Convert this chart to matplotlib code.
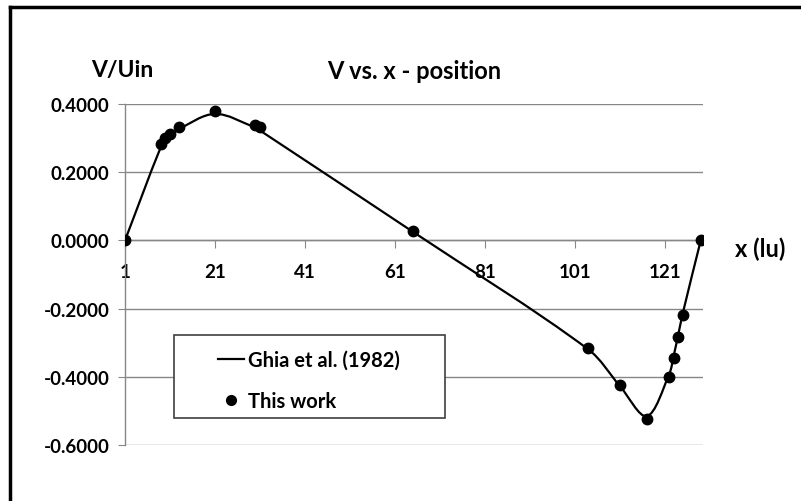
import matplotlib
matplotlib.use('Agg')
import matplotlib.pyplot as plt
from matplotlib.lines import Line2D
from matplotlib.patches import Rectangle, PathPatch
from matplotlib.path import Path
from matplotlib.ticker import FormatStrFormatter
import numpy as np

plt.rcParams['font.family'] = ['Lato', 'DejaVu Sans']
plt.rcParams['font.weight'] = 'bold'
plt.rcParams['axes.unicode_minus'] = False

# grid positions along the horizontal centreline (129 x 129 lattice)
x_lu = [1, 9, 10, 11, 13, 21, 30, 31, 65, 104, 111, 117, 122, 123, 124, 125, 129]
# Ghia et al. (1982), Re = 1000
v_ghia = [0.0, 0.27485, 0.29012, 0.30353, 0.32627, 0.37095, 0.33075, 0.32235, 0.02526,
          -0.31966, -0.42665, -0.51550, -0.39188, -0.33714, -0.27669, -0.21388, 0.0]
# this work
v_this = [0.0, 0.282, 0.299, 0.312, 0.333, 0.380, 0.338, 0.332, 0.027,
          -0.317, -0.425, -0.525, -0.402, -0.346, -0.282, -0.219, 0.0]

x_ticks = [1, 21, 41, 61, 81, 101, 121]
y_ticks = [0.4, 0.2, 0.0, -0.2, -0.4, -0.6]

grey = '#878787'
W, H = 801, 502
fig = plt.figure(figsize=(W / 100, H / 100), dpi=100)
ax = fig.add_axes([125 / W, 1 - 446 / H, (703 - 125) / W, (446 - 105) / H])


def smooth_path(xs, ys, sx=4.5, sy=340.0):
    # smoothed line like excel: cubic bezier through the points,
    # tangents from a chord-length parameterisation in screen-like units
    p = np.column_stack([np.asarray(xs) * sx, np.asarray(ys) * sy]).astype(float)
    d = np.hypot(*np.diff(p, axis=0).T)
    t = np.concatenate([[0], np.cumsum(d)])
    n = len(p)
    m = np.zeros_like(p)
    for i in range(n):
        a, b = max(i - 1, 0), min(i + 1, n - 1)
        m[i] = (p[b] - p[a]) / (t[b] - t[a])
    verts = [p[0]]
    codes = [Path.MOVETO]
    for i in range(n - 1):
        h = t[i + 1] - t[i]
        verts += [p[i] + m[i] * h / 3, p[i + 1] - m[i + 1] * h / 3, p[i + 1]]
        codes += [Path.CURVE4] * 3
    verts = np.array(verts) / [sx, sy]
    return Path(verts, codes)


ax.add_patch(PathPatch(smooth_path(x_lu, v_ghia), facecolor='none', edgecolor='black',
                       lw=1.6, zorder=3))
ax.plot(x_lu, v_this, 'o', color='black', ms=7.5, zorder=4)

ax.set_xlim(1, 129.5)
ax.set_ylim(-0.6, 0.4)
ax.set_yticks(y_ticks)
ax.yaxis.set_major_formatter(FormatStrFormatter('%.4f'))
ax.set_xticks(x_ticks)
ax.grid(axis='y', color=grey, lw=1.0)
ax.set_axisbelow(True)

for s in ['top', 'right']:
    ax.spines[s].set_visible(False)
ax.spines['bottom'].set_position(('data', 0))
ax.spines['bottom'].set_color(grey)
ax.spines['left'].set_color(grey)
ax.spines['bottom'].set_linewidth(1.0)
ax.spines['left'].set_linewidth(1.0)
ax.tick_params(axis='y', length=5, color=grey, labelsize=13.5, pad=6)
ax.tick_params(axis='x', length=6, color=grey, labelsize=13.5, pad=10)
for lab in ax.get_xticklabels() + ax.get_yticklabels():
    lab.set_fontweight('bold')

ax.set_title('V vs. x - position', fontsize=17, fontweight='bold', pad=19)
ax.annotate('V/Uin', xy=(0, 1), xycoords='axes fraction', xytext=(-2, 25),
            textcoords='offset points', ha='center', va='center',
            fontsize=16.5, fontweight='bold')
ax.annotate('x (lu)', xy=(1, 0.6), xycoords='axes fraction', xytext=(23, -6),
            textcoords='offset points', ha='left', va='center',
            fontsize=17, fontweight='bold')

# legend box
fig.add_artist(Rectangle((174 / W, 1 - 419 / H), (445 - 174) / W, (419 - 336) / H,
                         transform=fig.transFigure, facecolor='white',
                         edgecolor='#404040', lw=1.2, zorder=5))
handles = [Line2D([0], [0], color='black', lw=1.6, label='Ghia et al. (1982)'),
           Line2D([0], [0], color='black', marker='o', ls='none', ms=7,
                  label='This work')]
leg = fig.legend(handles=handles, loc='upper left',
                 bbox_to_anchor=(208 / W, 1 - 341 / H), frameon=False,
                 prop={'size': 14.5, 'weight': 'bold'}, handlelength=1.3,
                 handletextpad=0.2, labelspacing=1.05, borderpad=0)
leg.set_zorder(6)

# outer frame (top and left edges visible)
fig.add_artist(Line2D([9.5 / W, 1], [1 - 7.5 / H, 1 - 7.5 / H], color='black', lw=2.5,
                      transform=fig.transFigure))
fig.add_artist(Line2D([9.5 / W, 9.5 / W], [0, 1 - 7.5 / H], color='black', lw=2.5,
                      transform=fig.transFigure))

fig.savefig('out.png', dpi=100)
